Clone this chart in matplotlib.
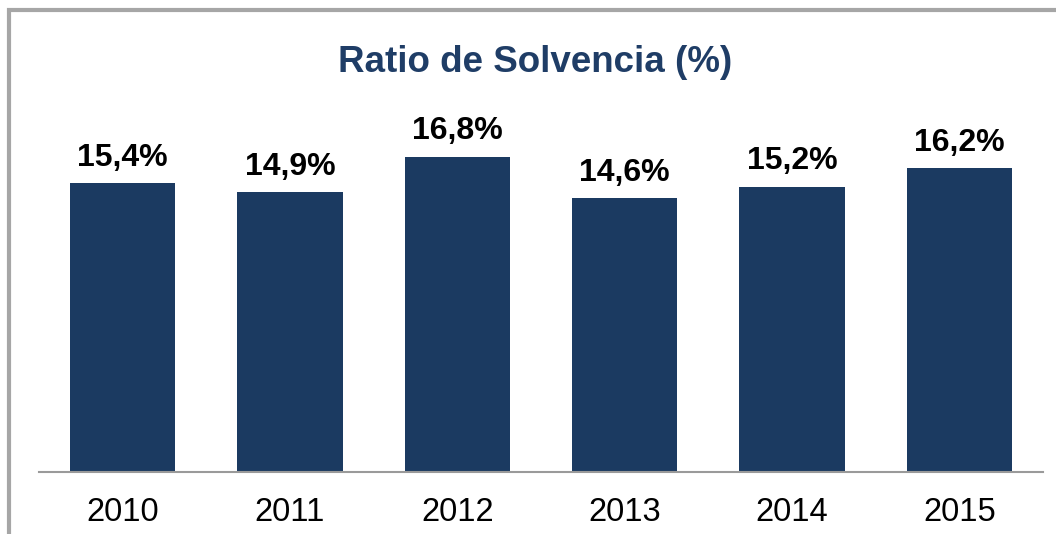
import matplotlib.pyplot as plt
from matplotlib.patches import Rectangle


# datos

anios = ["2010", "2011", "2012", "2013", "2014", "2015"]
ratio = [15.4, 14.9, 16.8, 14.6, 15.2, 16.2]
etiquetas = ["15,4%", "14,9%", "16,8%", "14,6%", "15,2%", "16,2%"]

azul = "#1b3a61"

plt.rcParams["font.family"] = ["Liberation Sans", "DejaVu Sans"]

fig = plt.figure(figsize=(10.56, 5.34), dpi=100)

# marco gris (solo se ve arriba y a la izquierda)
marco = Rectangle(
    (9 / 1056, -0.1),
    1.2,
    1.1 - 9.5 / 534,
    transform=fig.transFigure,
    fill=False,
    edgecolor="#a6a6a6",
    linewidth=3,
)
fig.patches.append(marco)

ax = fig.add_axes([39 / 1056, 62 / 534, 1004 / 1056, 372 / 534])

x = range(len(anios))
ax.bar(x, ratio, width=0.63, color=azul)

for xi, v, t in zip(x, ratio, etiquetas):
    ax.annotate(
        t,
        (xi, v),
        xytext=(0, 12.5),
        textcoords="offset points",
        ha="center",
        va="baseline",
        fontsize=23,
        fontweight="bold",
        color="black",
    )

ax.set_xlim(-0.5, 5.5)
ax.set_ylim(0, 372 / 18.77)

ax.set_xticks(list(x))
ax.set_xticklabels(anios, fontsize=23.5)
ax.tick_params(axis="x", length=0, pad=18)
ax.set_yticks([])

for lado in ["top", "right", "left"]:
    ax.spines[lado].set_visible(False)
ax.spines["bottom"].set_color("#9a9a9a")
ax.spines["bottom"].set_linewidth(1.5)

fig.text(
    535 / 1056,
    1 - 72 / 534,
    "Ratio de Solvencia (%)",
    ha="center",
    va="baseline",
    fontsize=26.5,
    fontweight="bold",
    color="#1f3d66",
)

fig.savefig("out.png", dpi=100)
plt.close()
